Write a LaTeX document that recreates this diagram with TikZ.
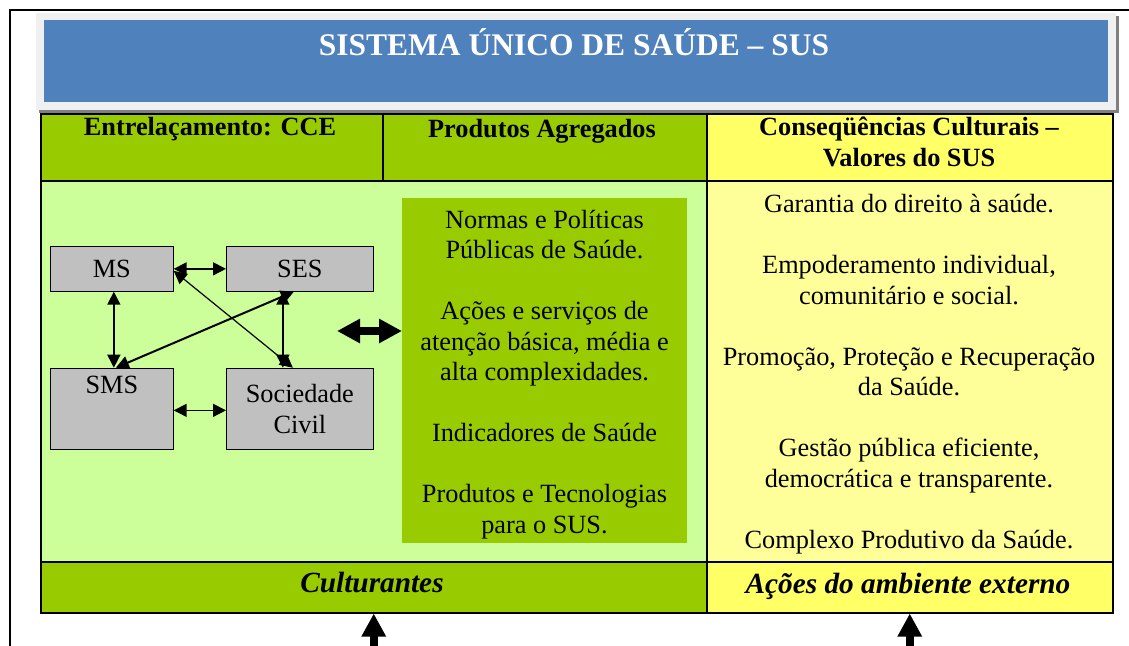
\documentclass[tikz,border=0pt]{standalone}
\usepackage{fontspec}
\setmainfont{Liberation Serif}
\usetikzlibrary{arrows.meta}
\definecolor{susblue}{HTML}{4F81BD}
\definecolor{susgreen}{HTML}{99CC00}
\definecolor{paleg}{HTML}{CCFF99}
\definecolor{susyellow}{HTML}{FFFF66}
\definecolor{paley}{HTML}{FFFF99}
\definecolor{boxgray}{HTML}{C0C0C0}
\definecolor{rimgray}{HTML}{F0F0F0}
\definecolor{shadegray}{HTML}{808080}
\newcommand\susbody{\fontsize{26.3}{30.5}\selectfont}
\newcommand\sushead{\fontsize{26.3}{31.5}\selectfont\bfseries}
\newcommand\susfoot{\fontsize{29.3}{32}\selectfont\bfseries\itshape}
\newcommand\sustitle{\fontsize{31.5}{34}\selectfont\bfseries}
\begin{document}
\begin{tikzpicture}[x=1pt,y=-1pt,
  cell/.style={draw=black, line width=1.5pt, anchor=north west, inner sep=0pt},
  orgbox/.style={draw=black, line width=1pt, fill=boxgray, font=\susbody, align=center, inner sep=0pt, anchor=north west},
  tw/.style={{Triangle[length=13pt,width=13pt]}-{Triangle[length=13pt,width=13pt]}, line width=1.5pt},
  fat/.style={line width=8pt, -{Triangle[length=23pt,width=23pt]}},
  fatboth/.style={line width=8pt, {Triangle[length=23pt,width=23pt]}-{Triangle[length=23pt,width=23pt]}}]
\useasboundingbox (0,0) rectangle (1129,645);
\fill[white] (0,0) rectangle (1129,645);
\draw[line width=2pt] (1140,10) -- (10,10) -- (10,660);

\node[cell, fill=susgreen, minimum width=342pt, minimum height=67pt] (h1) at (40,113) {};
\node[cell, fill=susgreen, minimum width=324pt, minimum height=67pt] (h2) at (382,113) {};
\node[cell, fill=susyellow, minimum width=406pt, minimum height=67pt] (h3) at (706,113) {};
\node[cell, fill=paleg, minimum width=666pt, minimum height=381pt] (b1) at (40,180) {};
\node[cell, fill=paley, minimum width=406pt, minimum height=381pt] (b2) at (706,180) {};
\node[cell, fill=susgreen, minimum width=666pt, minimum height=51pt] (f1) at (40,561) {};
\node[cell, fill=susyellow, minimum width=406pt, minimum height=51pt] (f2) at (706,561) {};

\fill[shadegray] (39,16) rectangle (1119,113);
\fill[rimgray] (36,13) rectangle (1116,110);
\node[fill=susblue, anchor=north west, inner sep=0pt, minimum width=1064pt, minimum height=82pt] (banner) at (44,20) {};
\node[anchor=base, font=\sustitle, text=white] (title) at (574,55) {SISTEMA ÚNICO DE SAÚDE – SUS};

\node[anchor=base, font=\sushead] (t1) at (210,135) {Entrelaçamento: CCE};
\node[anchor=base, font=\sushead] (t2) at (542,137) {Produtos Agregados};
\node[anchor=base, font=\sushead, align=center] (t3) at (909,166.5) {Conseqüências Culturais –\\Valores do SUS};

\node[orgbox, minimum width=122.7pt, minimum height=44.7pt] (ms) at (50,246) {MS};
\node[orgbox, minimum width=146.7pt, minimum height=44.7pt] (ses) at (226,246) {SES};
\node[orgbox, minimum width=122.7pt, minimum height=81.3pt, text height=18pt, text depth=48pt] (sms) at (50,367.7) {SMS};
\node[orgbox, minimum width=146.7pt, minimum height=81.3pt] (soc) at (226,367.7) {Sociedade\\Civil};

\draw[tw] (ms.east) -- (ses.west);
\draw[tw] ([yshift=-1.5pt]sms.east) -- ([yshift=-1.5pt]soc.west);
\draw[tw] ([xshift=2pt]ms.south) -- ([xshift=2pt]sms.north);
\draw[tw] ([xshift=-17pt]ses.south) -- ([xshift=-17pt]soc.north);
\draw[tw, line width=1.2pt] ([yshift=-2pt]ms.east) -- ([xshift=-7pt]soc.north);
\draw[tw, line width=2pt] ([xshift=-6pt]ses.south) -- ([xshift=4pt]sms.north);

\node[fill=susgreen, anchor=north west, inner sep=0pt, minimum width=285pt, minimum height=345pt] (prod) at (402,198) {};
\begin{scope}
\clip (prod.north west) rectangle (prod.south east);
\node[anchor=base, font=\susbody, align=center] (prodtxt) at (544.5,533) {Normas e Políticas\\Públicas de Saúde.\\[30.5pt]Ações e serviços de\\atenção básica, média e\\alta complexidades.\\[30.5pt]Indicadores de Saúde\\[30.5pt]Produtos e Tecnologias\\para o SUS.};
\end{scope}

\coordinate (dl) at (337,331);
\draw[fatboth] (dl) -- (prod.west |- dl);

\node[anchor=base, font=\susbody, align=center] (vals) at (909,548) {Garantia do direito à saúde.\\[30.5pt]Empoderamento individual,\\comunitário e social.\\[30.5pt]Promoção, Proteção e Recuperação\\da Saúde.\\[30.5pt]Gestão pública eficiente,\\democrática e transparente.\\[30.5pt]Complexo Produtivo da Saúde.};

\node[anchor=base, font=\susfoot] (cult) at (372,592) {Culturantes};
\node[anchor=base, font=\susfoot] (acoes) at (908,593) {Ações do ambiente externo};

\coordinate (u1) at (f1.south |- 0,650);
\coordinate (u2) at (f2.south |- 0,650);
\draw[fat] (u1) -- (f1.south);
\draw[fat] (u2) -- (f2.south);
\end{tikzpicture}
\end{document}
